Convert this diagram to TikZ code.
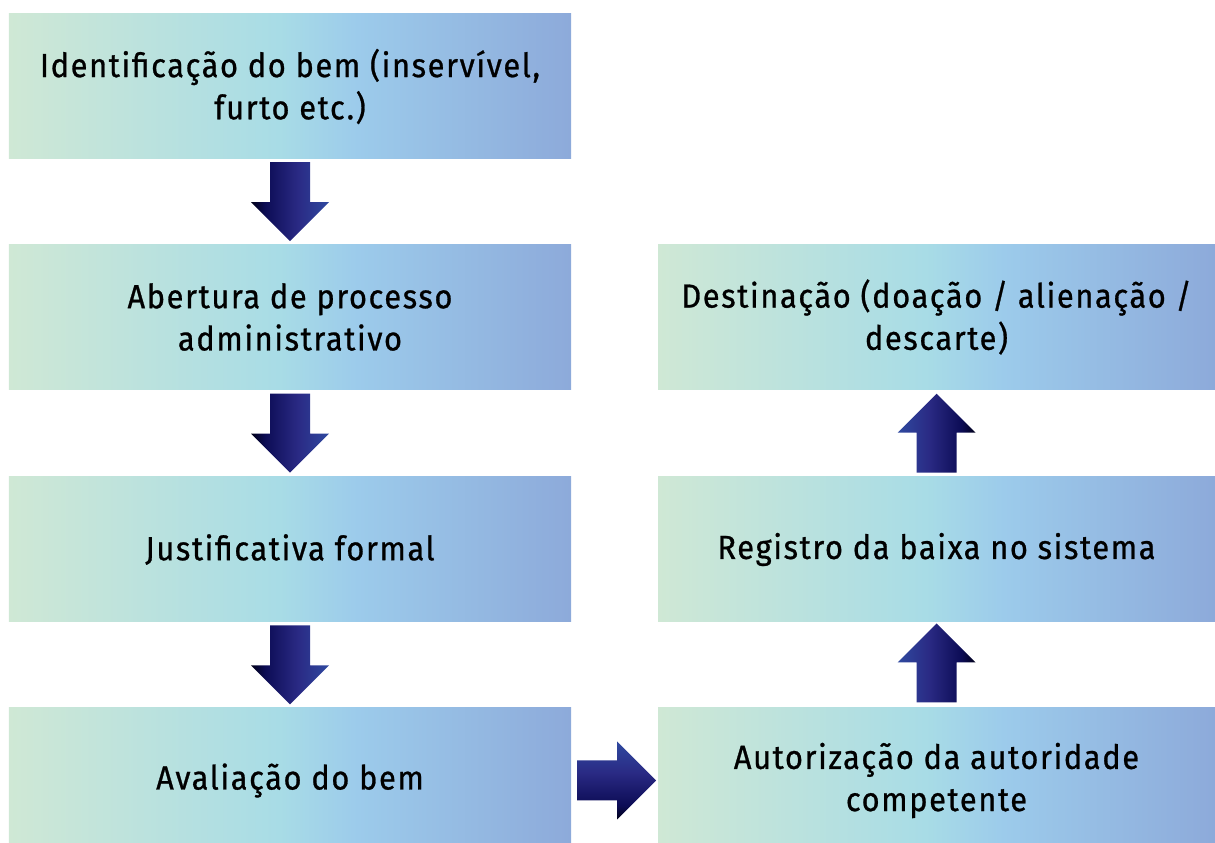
\documentclass[tikz,border=0pt]{standalone}
\usepackage{fontspec}
\setmainfont[FakeStretch=0.92, LetterSpace=5, FakeBold=0.8]{Fira Sans}
\usetikzlibrary{calc}

% box and arrow colours
\definecolor{boxA}{HTML}{CFE8D5}
\definecolor{boxB}{HTML}{A8DCE6}
\definecolor{boxC}{HTML}{9CCBEB}
\definecolor{boxD}{HTML}{8DAADA}
\definecolor{arrA}{HTML}{000018}
\definecolor{arrB}{HTML}{0C0C55}
\definecolor{arrC}{HTML}{2A2A84}
\definecolor{arrD}{HTML}{2F49A0}

\pgfdeclarehorizontalshading{boxshade}{100bp}{color(0bp)=(boxA); color(25bp)=(boxA);
  color(49bp)=(boxB); color(56bp)=(boxC); color(75bp)=(boxD); color(100bp)=(boxD)}
\pgfdeclareverticalshading{arrowshade}{100bp}{color(0bp)=(arrA); color(25bp)=(arrA);
  color(34bp)=(arrB); color(55bp)=(arrC); color(75bp)=(arrD); color(100bp)=(arrD)}

\tikzset{
  stepbox/.style={shade, shading=boxshade, minimum height=2.9cm, inner sep=0pt,
    align=center, text=black, font=\fontsize{19}{24}\selectfont},
  leftbox/.style={stepbox, minimum width=11.24cm},
  rightbox/.style={stepbox, minimum width=11.14cm}
}

% Parameters of the block arrows
\def\arrL{1.58}    % arrow length
\def\shaftW{0.8}   % shaft width
\def\headW{1.56}   % head width
\def\headL{0.78}   % head length

% block arrow centred between two anchors, #3 = direction
\newcommand{\flowarrow}[3]{%
  \coordinate (mid) at ($(#1)!0.5!(#2)$);
  \begin{scope}[shift={(mid)}, rotate=#3]
    \shade[shading=arrowshade, shading angle=#3]
      (-\arrL/2,-\shaftW/2) -- (\arrL/2-\headL,-\shaftW/2) -- (\arrL/2-\headL,-\headW/2)
      -- (\arrL/2,0) -- (\arrL/2-\headL,\headW/2) -- (\arrL/2-\headL,\shaftW/2)
      -- (-\arrL/2,\shaftW/2) -- cycle;
  \end{scope}}

\begin{document}
\begin{tikzpicture}

  \useasboundingbox (0,0) rectangle (24.3,16.86);

  % Left column
  \node[leftbox] (ident) at (5.8,15.13) {Identificação do bem (inservível,\\furto etc.)};
  \node[leftbox] (abert) at (5.8,10.52) {Abertura de processo\\administrativo};
  \node[leftbox] (justif) at (5.8,5.87) {Justificativa formal};
  \node[leftbox] (aval) at (5.8,1.25) {Avaliação do bem};

  % Right column
  \node[rightbox] (autor) at (18.73,1.25) {Autorização da autoridade\\competente};
  \node[rightbox] (regist) at (18.73,5.87) {Registro da baixa no sistema};
  \node[rightbox] (destin) at (18.73,10.52) {Destinação (doação / alienação /\\descarte)};

  % Arrows
  \flowarrow{ident.south}{abert.north}{-90}
  \flowarrow{abert.south}{justif.north}{-90}
  \flowarrow{justif.south}{aval.north}{-90}
  \flowarrow{$(aval.east)+(0.08,0)$}{autor.west}{0}
  \flowarrow{$(autor.north)+(0,0.08)$}{regist.south}{90}
  \flowarrow{regist.north}{destin.south}{90}

\end{tikzpicture}
\end{document}
